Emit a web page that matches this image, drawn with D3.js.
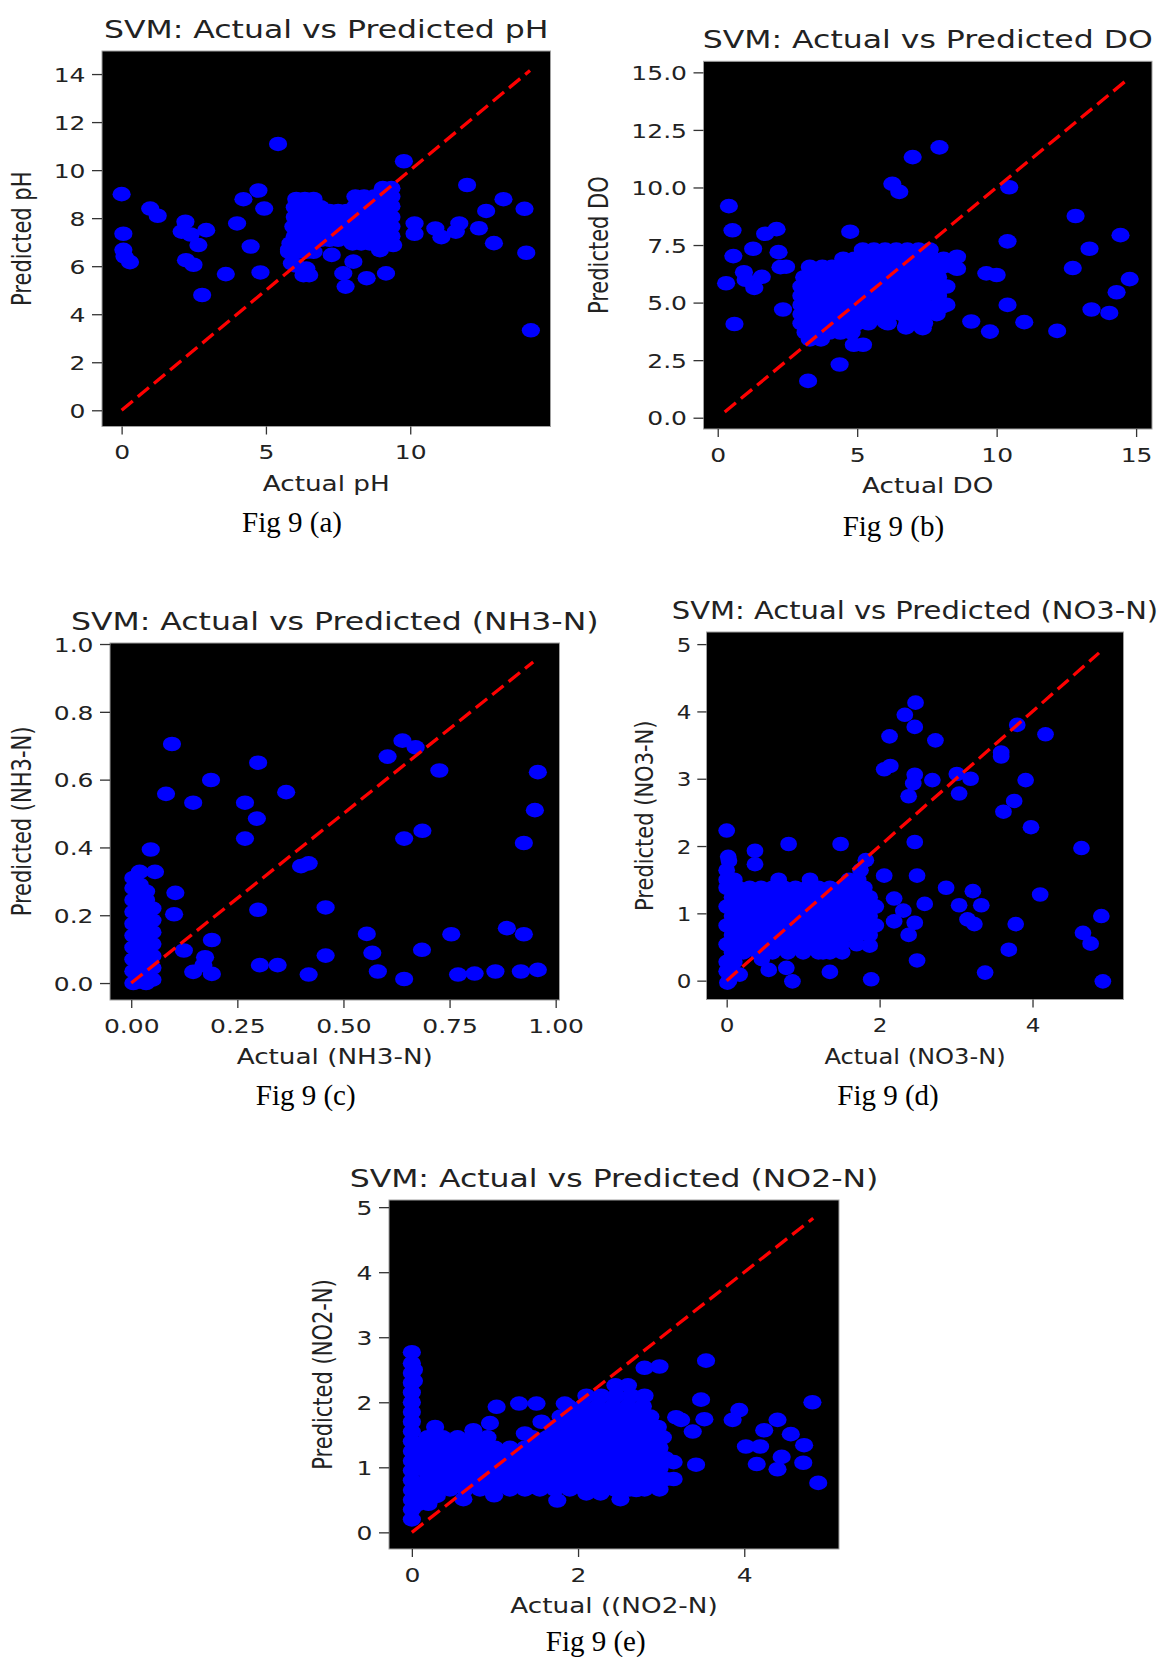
<!DOCTYPE html>
<html><head><meta charset="utf-8">
<script src="https://cdn.jsdelivr.net/npm/d3@7"></script>
<style>body{margin:0;background:#fff} svg{display:block}</style>
</head><body>
<svg id="chart" width="1165" height="1657"></svg>
<script>
// ---------------- DATA ----------------
// Panel (a) pH : [actual, predicted]
const phOutliers = [
[0,9.0],[0.06,7.35],[0.06,6.68],[0.1,6.4],[0.29,6.17],[0.99,8.4],[1.25,8.1],[2.21,7.85],[2.08,7.44],[2.39,7.32],
[2.93,7.5],[2.66,6.88],[2.23,6.25],[2.49,6.06],[2.79,4.8],[3.61,5.67],[4.0,7.78],[4.22,8.79],[4.74,9.15],[4.94,8.4],
[4.47,6.82],[4.81,5.74],[5.42,11.09],[9.78,10.37],[11.97,9.38],[10.15,7.78],[10.15,7.35],[10.87,7.57],[11.08,7.21],
[11.58,7.44],[11.7,7.78],[12.38,7.58],[12.63,8.3],[13.23,8.79],[12.9,6.96],[13.96,8.39],[14.02,6.56],[14.18,3.33],
[5.9,6.12],[6.3,5.63],[6.5,5.63],[7.28,6.47],[8.03,6.19],[7.68,5.7],[7.76,5.15],[8.49,5.5],[9.16,5.7],[8.95,6.67],
[9.41,6.88],[5.8,6.7],[6.05,6.03],[6.4,5.9]
];
// dense cluster rows: [predicted, actual, actual, ...]
const phClusterRows = [
[9.25, 9.05, 9.35],
[8.9, 8.1, 8.4, 8.75, 9.05, 9.35],
[8.8, 6.05, 6.35, 6.65],
[8.45, 6.0, 6.3, 6.6, 6.9],
[8.3, 7.2, 7.5, 7.8],
[8.5, 8.1, 8.4, 8.7, 9.0, 9.35],
[8.05, 6.0, 6.3, 6.6, 6.9, 7.2, 7.5, 7.8, 8.1, 8.4, 8.7, 9.0, 9.35],
[7.65, 5.95, 6.25, 6.55, 6.85, 7.15, 7.45, 7.75, 8.05, 8.35, 8.65, 8.95, 9.35],
[7.25, 6.0, 6.3, 6.6, 6.9, 7.2, 7.5, 7.8, 8.1, 8.4, 8.7, 9.0, 9.35],
[7.1, 6.9, 7.2, 7.5],
[6.95, 5.85, 6.15, 6.45, 8.0, 8.3, 8.6, 8.95, 9.3],
[6.6, 5.8, 6.1, 6.4, 6.65]
];
const phLine = [0, 14.15];
const phXDomain = [-0.68, 14.86], phYDomain = [-0.675, 14.96];
const phXTicks = [0, 5, 10], phYTicks = [0, 2, 4, 6, 8, 10, 12, 14];

// Panel (b) DO
const doOutliers = [
[0.4,9.19],[0.53,8.14],[0.56,7.02],[0.3,5.84],[0.6,4.07],[0.94,6.32],[1.0,5.99],[1.31,5.64],[1.58,6.12],[1.27,7.34],
[1.7,7.99],[2.11,8.19],[2.18,7.19],[2.25,6.54],[2.45,6.56],[2.34,4.7],[4.75,8.08],[6.26,10.16],[6.51,9.81],[6.99,11.32],
[7.95,11.74],[10.45,10.01],[10.39,7.66],[10.39,4.9],[9.63,6.27],[10.0,6.2],[9.09,4.18],[9.76,3.74],[10.99,4.15],
[12.17,3.77],[12.83,8.76],[12.73,6.5],[13.33,7.34],[13.4,4.7],[14.04,4.55],[14.3,5.45],[14.44,7.93],[14.77,6.02],
[8.58,6.99],[8.58,6.47],[4.37,2.31],[3.24,1.6],[4.88,3.17],[5.21,3.17],[6.75,3.92],[7.35,3.89],[6.02,4.15],[8.02,4.82]
];
const doClusterRows = [
[7.3, 5.2, 5.6, 6.0, 6.4, 6.8, 7.2, 7.6],
[6.9, 4.5, 4.9, 5.3, 5.7, 6.1, 6.5, 6.9, 7.3, 7.7, 8.1],
[6.55, 3.3, 3.75, 4.1, 4.5, 4.9, 5.3, 5.7, 6.1, 6.5, 6.9, 7.3, 7.7, 8.05, 8.45],
[6.1, 3.1, 3.5, 3.9, 4.3, 4.7, 5.1, 5.5, 5.9, 6.3, 6.7, 7.1, 7.5, 7.9],
[5.7, 3.0, 3.4, 3.8, 4.2, 4.6, 5.0, 5.4, 5.8, 6.2, 6.6, 7.0, 7.4, 7.9, 8.2],
[5.3, 3.0, 3.4, 3.8, 4.2, 4.6, 5.0, 5.4, 5.8, 6.2, 6.6, 7.0, 7.4, 7.9],
[4.9, 3.0, 3.4, 3.8, 4.2, 4.6, 5.0, 5.4, 5.8, 6.2, 6.6, 7.0, 7.4, 7.9, 8.2],
[4.5, 3.0, 3.4, 3.8, 4.2, 4.6, 5.0, 5.4, 5.8, 6.2, 6.6, 7.0, 7.4, 7.85],
[4.1, 3.0, 3.4, 3.8, 4.2, 4.6, 5.0, 5.4, 6.1, 6.8, 7.4],
[3.7, 3.15, 3.6, 4.0, 4.4, 4.8],
[3.4, 3.3, 3.7]
];
const doLine = [0.25, 14.6];
const doXDomain = [-0.51, 15.57], doYDomain = [-0.49, 15.48];
const doXTicks = [0, 5, 10, 15], doYTicks = [0, 2.5, 5, 7.5, 10, 12.5, 15];

// Panel (c) NH3-N
const nh3Outliers = [
[0.096,0.705],[0.082,0.558],[0.146,0.532],[0.188,0.599],[0.268,0.532],[0.296,0.485],[0.268,0.426],[0.299,0.65],
[0.365,0.563],[0.046,0.394],[0.104,0.266],[0.101,0.203],[0.124,0.096],[0.19,0.127],[0.174,0.076],[0.17,0.053],
[0.146,0.033],[0.19,0.027],[0.299,0.216],[0.303,0.053],[0.345,0.053],[0.4,0.345],[0.418,0.353],[0.418,0.025],
[0.458,0.223],[0.458,0.081],[0.555,0.145],[0.568,0.089],[0.581,0.034],[0.643,0.012],[0.604,0.668],[0.639,0.715],
[0.67,0.695],[0.726,0.627],[0.643,0.426],[0.686,0.449],[0.685,0.098],[0.754,0.144],[0.77,0.025],[0.809,0.028],
[0.858,0.034],[0.885,0.162],[0.925,0.144],[0.918,0.034],[0.958,0.039],[0.925,0.413],[0.951,0.51],[0.958,0.622]
];
// dense cluster columns: [actual, predicted, predicted, ...]
const nh3ClusterCols = [
[0.005, 0.0, 0.035, 0.07, 0.105, 0.14, 0.175, 0.21, 0.245, 0.28, 0.31],
[0.02, 0.005, 0.04, 0.075, 0.11, 0.145, 0.18, 0.215, 0.25, 0.29, 0.328],
[0.035, 0.0, 0.035, 0.07, 0.105, 0.14, 0.175, 0.21, 0.245, 0.27],
[0.05, 0.01, 0.045, 0.08, 0.115, 0.15, 0.185, 0.22],
[0.056, 0.328]
];
const nh3Line = [0, 0.947];
const nh3XDomain = [-0.05, 1.009], nh3YDomain = [-0.05, 1.003];
const nh3XTicks = [0, 0.25, 0.5, 0.75, 1.0], nh3YTicks = [0, 0.2, 0.4, 0.6, 0.8, 1.0];

// Panel (d) NO3-N
const no3Outliers = [
[0,2.23],[0.02,1.84],[0.37,1.93],[0.37,1.73],[0.81,2.03],[1.49,2.03],[1.82,1.79],[2.06,1.56],[2.49,1.56],[2.46,2.06],
[2.33,3.95],[2.47,4.13],[2.46,3.77],[2.13,3.63],[2.06,3.14],[2.14,3.19],[2.46,3.06],[2.44,2.93],[2.38,2.74],[2.73,3.57],
[2.69,2.98],[3.01,3.07],[3.19,3.0],[3.04,2.78],[3.59,3.39],[3.59,3.33],[3.8,3.8],[3.91,2.98],[3.76,2.67],[3.62,2.51],
[3.98,2.28],[4.17,3.66],[4.64,1.97],[4.9,0.96],[4.66,0.71],[4.76,0.55],[4.92,-0.01],[4.1,1.28],[3.78,0.84],[3.69,0.46],
[3.38,0.12],[3.22,1.33],[3.33,1.12],[3.04,1.12],[3.15,0.91],[3.24,0.84],[2.87,1.38],[2.59,1.14],[2.46,0.86],[2.38,0.68],
[2.49,0.3],[1.89,0.02],[1.35,0.13],[0.86,-0.01],[0.78,0.19],[0.55,0.16],[0.17,0.09],[0.01,-0.03],[2.19,1.22],[2.31,1.04],
[2.19,0.88],[1.87,0.52],[1.51,0.42],[1.26,0.42],[0.46,0.32]
];
const no3ClusterRows = [
[1.78, 0.03],
[1.64, 0.0, 1.75],
[1.5, 0.0, 0.1, 0.68, 1.09, 1.6, 1.72],
[1.38, 0.0, 0.15, 0.3, 0.45, 0.6, 0.75, 0.9, 1.05, 1.2, 1.35, 1.5, 1.65, 1.8],
[1.24, 0.07, 0.22, 0.37, 0.52, 0.67, 0.82, 0.97, 1.12, 1.27, 1.42, 1.57, 1.72, 1.87],
[1.10, 0.0, 0.15, 0.3, 0.45, 0.6, 0.75, 0.9, 1.05, 1.2, 1.35, 1.5, 1.65, 1.8, 1.95],
[0.96, 0.07, 0.22, 0.37, 0.52, 0.67, 0.82, 0.97, 1.12, 1.27, 1.42, 1.57, 1.72, 1.87],
[0.82, 0.0, 0.15, 0.3, 0.45, 0.6, 0.75, 0.9, 1.05, 1.2, 1.35, 1.5, 1.65, 1.8, 1.95],
[0.68, 0.07, 0.22, 0.37, 0.52, 0.67, 0.82, 0.97, 1.12, 1.27, 1.42, 1.57, 1.72, 1.87],
[0.54, 0.0, 0.15, 0.3, 0.45, 0.6, 0.75, 0.9, 1.05, 1.2, 1.35, 1.5, 1.7],
[0.42, 0.07, 0.22, 0.4, 0.6, 0.8, 1.0, 1.2, 1.35],
[0.28, 0.0, 0.1],
[0.14, 0.0, 0.08],
[0.0, 0.03]
];
const no3Line = [0, 4.87];
const no3XDomain = [-0.264, 5.19], no3YDomain = [-0.28, 5.18];
const no3XTicks = [0, 2, 4], no3YTicks = [0, 1, 2, 3, 4, 5];

// Panel (e) NO2-N
const no2Outliers = [
[3.54,2.64],[2.8,2.53],[2.98,2.55],[3.48,2.04],[3.52,1.74],[3.86,1.73],[3.94,1.88],[3.38,1.55],[3.42,1.04],[4.02,1.32],
[4.19,1.32],[4.24,1.57],[4.4,1.73],[4.56,1.51],[4.72,1.34],[4.82,2.0],[4.15,1.05],[4.4,0.97],[4.45,1.16],[4.71,1.07],
[4.89,0.76],[3.18,1.77],[3.24,1.73],[3.15,1.08],[3.15,0.82],[2.51,0.51],[1.75,0.49],[0.62,0.51],[1.02,1.93],[1.29,1.98],
[1.5,1.98],[1.84,1.98],[0.99,0.57],[1.46,0.7],[2.1,0.6],[2.27,0.6],[2.7,0.65],[0.28,1.62],[0.94,1.68],[0.74,1.57],
[1.36,1.52],[1.56,1.7]
];
const no2SpikeCols = [
[0.0, 0.2, 0.35, 0.5, 0.65, 0.8, 0.95, 1.1, 1.25, 1.4, 1.55, 1.7, 1.85, 2.0, 2.15, 2.3, 2.45, 2.6, 2.77],
[0.025, 0.4, 1.2, 2.33, 2.5]
];
const no2ClusterRows = [
[0.44, 0.08, 0.2],
[0.56, 0.12, 0.3],
[0.66, 0.1, 0.28, 0.46, 0.64, 0.82, 1.0, 1.18, 1.36, 1.54, 1.72, 1.9, 2.08, 2.26, 2.44, 2.62, 2.8, 2.98],
[0.82, 0.19, 0.37, 0.55, 0.73, 0.91, 1.09, 1.27, 1.45, 1.63, 1.81, 1.99, 2.17, 2.35, 2.53, 2.71, 2.89, 3.05],
[0.98, 0.1, 0.28, 0.46, 0.64, 0.82, 1.0, 1.18, 1.36, 1.54, 1.72, 1.9, 2.08, 2.26, 2.44, 2.62, 2.8, 2.98],
[1.14, 0.19, 0.37, 0.55, 0.73, 0.91, 1.09, 1.27, 1.45, 1.63, 1.81, 1.99, 2.17, 2.35, 2.53, 2.71, 2.89, 3.05],
[1.30, 0.1, 0.28, 0.46, 0.64, 0.82, 1.0, 1.18, 1.36, 1.54, 1.72, 1.9, 2.08, 2.26, 2.44, 2.62, 2.8, 2.98],
[1.46, 0.19, 0.37, 0.55, 0.73, 0.91, 1.45, 1.63, 1.81, 1.99, 2.17, 2.35, 2.53, 2.71, 2.89, 3.02],
[1.62, 1.7, 1.88, 2.06, 2.24, 2.42, 2.6, 2.78, 2.96],
[1.78, 1.79, 1.97, 2.15, 2.33, 2.51, 2.69, 2.87],
[1.94, 1.88, 2.06, 2.24, 2.42, 2.6, 2.78],
[2.10, 2.1, 2.28, 2.46, 2.64, 2.8],
[2.26, 2.45, 2.6]
];
const no2Line = [0, 4.83];
const no2XDomain = [-0.275, 5.14], no2YDomain = [-0.256, 5.11];
const no2XTicks = [0, 2, 4], no2YTicks = [0, 1, 2, 3, 4, 5];

// --------- helpers to assemble [x,y] pairs from the tables above ---------
const fromRows = rows => rows.flatMap(r => r.slice(1).map(v => [v, r[0]]));
const fromCols = cols => cols.flatMap(c => c.slice(1).map(v => [c[0], v]));

// ---------------- LAYOUT ----------------
const panels = [
 {id:'a', title:'SVM: Actual vs Predicted pH', xlab:'Actual pH', ylab:'Predicted pH', cap:'Fig 9 (a)',
  box:[102,51,550.5,426.5], sx:1.25, ylabOff:71.4, capX:292, capY:532,
  xdom:phXDomain, ydom:phYDomain, xticks:phXTicks, yticks:phYTicks, xfmt:'d', yfmt:'d', line:phLine,
  points: phOutliers.concat(fromRows(phClusterRows))},
 {id:'b', title:'SVM: Actual vs Predicted DO', xlab:'Actual DO', ylab:'Predicted DO', cap:'Fig 9 (b)',
  box:[703.5,61.3,1152,429], sx:1.25, ylabOff:95.5, capX:893.4, capY:535.5,
  xdom:doXDomain, ydom:doYDomain, xticks:doXTicks, yticks:doYTicks, xfmt:'d', yfmt:'.1f', line:doLine,
  points: doOutliers.concat(fromRows(doClusterRows))},
 {id:'c', title:'SVM: Actual vs Predicted (NH3-N)', xlab:'Actual (NH3-N)', ylab:'Predicted (NH3-N)', cap:'Fig 9 (c)',
  box:[110,643,559.5,1000], sx:1.25, ylabOff:79.5, capX:305.7, capY:1105,
  xdom:nh3XDomain, ydom:nh3YDomain, xticks:nh3XTicks, yticks:nh3YTicks, xfmt:'.2f', yfmt:'.1f', line:nh3Line,
  points: nh3Outliers.concat(fromCols(nh3ClusterCols))},
 {id:'d', title:'SVM: Actual vs Predicted (NO3-N)', xlab:'Actual (NO3-N)', ylab:'Predicted (NO3-N)', cap:'Fig 9 (d)',
  box:[706.5,632,1123.5,999.5], sx:1.15, ylabOff:53.5, capX:888, capY:1105,
  xdom:no3XDomain, ydom:no3YDomain, xticks:no3XTicks, yticks:no3YTicks, xfmt:'d', yfmt:'d', line:no3Line,
  points: no3Outliers.concat(fromRows(no3ClusterRows))},
 {id:'e', title:'SVM: Actual vs Predicted (NO2-N)', xlab:'Actual ((NO2-N)', ylab:'Predicted (NO2-N)', cap:'Fig 9 (e)',
  box:[389,1200,839,1549], sx:1.25, ylabOff:56.7, capX:595.7, capY:1651,
  xdom:no2XDomain, ydom:no2YDomain, xticks:no2XTicks, yticks:no2YTicks, xfmt:'d', yfmt:'d', line:no2Line,
  points: no2Outliers.concat(fromCols(no2SpikeCols), fromRows(no2ClusterRows))}
];

const FONT = "'DejaVu Sans', Verdana, sans-serif";
const svg = d3.select('#chart');
const defs = svg.append('defs');

panels.forEach(p => {
  const [x0, y0, x1, y1] = p.box;
  const k = p.sx / 1.25;
  const x = d3.scaleLinear().domain(p.xdom).range([x0, x1]);
  const y = d3.scaleLinear().domain(p.ydom).range([y1, y0]);
  const g = svg.append('g');

  g.append('rect').attr('x', x0).attr('y', y0).attr('width', x1 - x0).attr('height', y1 - y0)
    .attr('fill', '#000').attr('stroke', '#a0a0a0').attr('stroke-width', 1);

  defs.append('clipPath').attr('id', 'clip-' + p.id).append('rect')
    .attr('x', x0).attr('y', y0).attr('width', x1 - x0).attr('height', y1 - y0);

  const plot = g.append('g').attr('clip-path', `url(#clip-${p.id})`);
  plot.selectAll('ellipse').data(p.points).join('ellipse')
    .attr('cx', d => x(d[0])).attr('cy', d => y(d[1]))
    .attr('rx', 9.1 * k).attr('ry', 7.3).attr('fill', '#0000ff');
  plot.append('line')
    .attr('x1', x(p.line[0])).attr('y1', y(p.line[0]))
    .attr('x2', x(p.line[1])).attr('y2', y(p.line[1]))
    .attr('stroke', '#ff0000').attr('stroke-width', 3.3).attr('stroke-dasharray', '14.5,6.5');

  // y axis
  const ya = g.append('g').attr('transform', `translate(${x0},0)`)
    .call(d3.axisLeft(y).tickValues(p.yticks).tickFormat(d3.format(p.yfmt)).tickSize(10 * k));
  ya.select('.domain').remove();
  ya.attr('font-family', FONT).attr('font-size', 20);
  ya.selectAll('.tick line').attr('stroke', '#333').attr('stroke-width', 1.3);
  ya.selectAll('.tick text').attr('x', null).attr('dy', '0.36em').attr('fill', '#222')
    .attr('text-anchor', 'end')
    .attr('transform', `translate(${-16.5 * k},0) scale(${p.sx},1)`);

  // x axis
  const xa = g.append('g').attr('transform', `translate(0,${y1})`)
    .call(d3.axisBottom(x).tickValues(p.xticks).tickFormat(d3.format(p.xfmt)).tickSize(8));
  xa.select('.domain').remove();
  xa.attr('font-family', FONT).attr('font-size', 20);
  xa.selectAll('.tick line').attr('stroke', '#333').attr('stroke-width', 1.3);
  xa.selectAll('.tick text').attr('y', null).attr('dy', null).attr('fill', '#222')
    .attr('transform', `translate(0,32.5) scale(${p.sx},1)`);

  // title
  g.append('text').attr('transform', `translate(${(x0 + x1) / 2},${y0 - 13.5}) scale(${p.sx},1)`)
    .attr('text-anchor', 'middle').attr('font-family', FONT).attr('font-size', 25.2)
    .attr('fill', '#222').text(p.title);
  // x label
  g.append('text').attr('transform', `translate(${(x0 + x1) / 2},${y1 + 64}) scale(${p.sx},1)`)
    .attr('text-anchor', 'middle').attr('font-family', FONT).attr('font-size', 21)
    .attr('fill', '#222').text(p.xlab);
  // y label
  g.append('text').attr('transform', `translate(${x0 - p.ylabOff},${(y0 + y1) / 2}) scale(${p.sx},1) rotate(-90)`)
    .attr('text-anchor', 'middle').attr('font-family', FONT).attr('font-size', 21)
    .attr('fill', '#222').text(p.ylab);
  // caption
  g.append('text').attr('x', p.capX).attr('y', p.capY)
    .attr('text-anchor', 'middle').attr('font-family', "'Liberation Serif', 'Times New Roman', serif")
    .attr('font-size', 29).attr('fill', '#000').text(p.cap);
});
</script>
</body></html>
